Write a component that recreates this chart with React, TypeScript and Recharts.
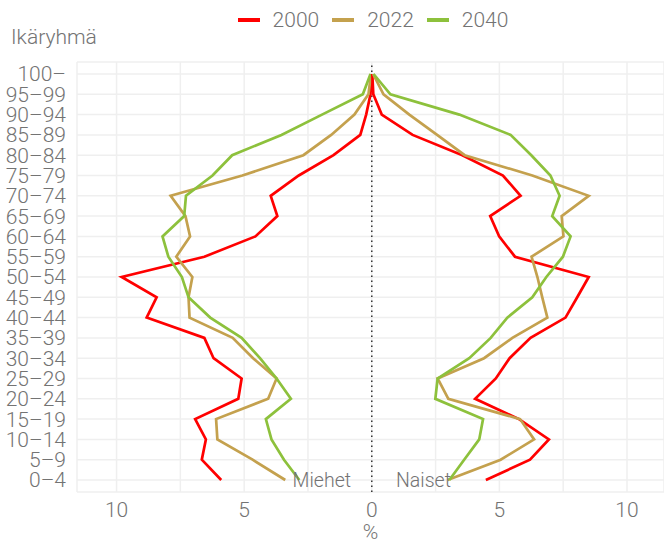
import React from "react";
import {
  LineChart, Line, XAxis, YAxis, CartesianGrid, ReferenceLine, Legend,
} from "recharts";

// age groups, bottom (0–4) to top (100–)
const AGES = [
  "0–4", "5–9", "10–14", "15–19", "20–24", "25–29", "30–34", "35–39", "40–44", "45–49",
  "50–54", "55–59", "60–64", "65–69", "70–74", "75–79", "80–84", "85–89", "90–94", "95–99", "100–",
];

// share of population, % (men drawn on the left)
const MEN_2000 = [5.9, 6.66, 6.5, 6.92, 5.23, 5.1, 6.2, 6.56, 8.82, 8.43, 9.8, 6.56, 4.56, 3.7, 3.96, 2.86, 1.5, 0.45, 0.22, 0.05, 0.02];
const MEN_2022 = [3.39, 4.67, 6.05, 6.1, 4.06, 3.73, 4.65, 5.45, 7.14, 7.18, 7.03, 7.66, 7.12, 7.3, 7.88, 5.07, 2.68, 1.59, 0.68, 0.13, 0.03];
const MEN_2040 = [2.84, 3.44, 3.93, 4.15, 3.17, 3.73, 4.38, 5.1, 6.33, 7.18, 7.44, 7.97, 8.2, 7.35, 7.28, 6.24, 5.47, 3.54, 1.95, 0.35, 0.05];

const WOMEN_2000 = [4.47, 6.2, 6.94, 5.77, 4.05, 4.86, 5.4, 6.22, 7.59, 8.05, 8.5, 5.61, 4.99, 4.64, 5.83, 5.14, 3.55, 1.6, 0.39, 0.06, 0.02];
const WOMEN_2022 = [2.97, 5.05, 6.36, 5.81, 3.0, 2.58, 4.4, 5.51, 6.88, 6.68, 6.49, 6.26, 7.51, 7.44, 8.5, 6.29, 3.64, 2.56, 1.47, 0.46, 0.05];
const WOMEN_2040 = [3.04, 3.62, 4.21, 4.36, 2.49, 2.58, 3.82, 4.66, 5.31, 6.29, 6.84, 7.49, 7.79, 7.07, 7.36, 7.0, 6.25, 5.44, 3.43, 0.73, 0.07];

const YEARS = ["2000", "2022", "2040"];
const COLORS: Record<string, string> = {
  "2000": "#ff0000",
  "2022": "#c4a14e",
  "2040": "#8dc13c",
};

const X_TICKS = [-10, -7.5, -5, -2.5, 0, 2.5, 5, 7.5, 10];

const rows = AGES.map((age, i) => ({
  age,
  m2000: -MEN_2000[i],
  m2022: -MEN_2022[i],
  m2040: -MEN_2040[i],
  w2000: WOMEN_2000[i],
  w2022: WOMEN_2022[i],
  w2040: WOMEN_2040[i],
}));

const FONT = "Roboto, 'Noto Sans', sans-serif";
const GREY = "#737373";

const renderLegend = () => (
  <div
    style={{
      display: "flex", justifyContent: "center", alignItems: "center",
      height: 39, paddingLeft: 82, fontFamily: FONT, fontWeight: 300,
      fontSize: 21, color: GREY,
    }}
  >
    {YEARS.map((y) => (
      <div key={y} style={{ display: "flex", alignItems: "center", margin: "0 6.5px" }}>
        <span style={{ display: "inline-block", width: 22, height: 4, background: COLORS[y], marginRight: 13 }} />
        <span>{y}</span>
      </div>
    ))}
  </div>
);

export default function App() {
  return (
    <div style={{ position: "absolute", left: 0, top: 0, width: 664, height: 543, background: "#fff" }}>
      <LineChart
        layout="vertical"
        width={664}
        height={543}
        data={rows}
        margin={{ top: 62, right: 0, bottom: 0, left: 0 }}
      >
        <CartesianGrid stroke="#efefef" strokeWidth={1.5} />
        <XAxis
          type="number"
          domain={[-11.55, 11.45]}
          allowDataOverflow
          ticks={X_TICKS}
          tickFormatter={(v: number) => (v % 5 === 0 ? String(Math.abs(v)) : "")}
          axisLine={false}
          tickLine={false}
          tickSize={0}
          tickMargin={10}
          height={51}
          tick={{ fill: GREY, fontSize: 21, fontFamily: FONT, fontWeight: 300 }}
          label={{ value: "%", position: "insideBottom", offset: 4, fill: GREY, fontSize: 21, fontFamily: FONT, fontWeight: 300 }}
        />
        <YAxis
          type="category"
          dataKey="age"
          reversed
          interval={0}
          width={77}
          padding={{ top: 12, bottom: 12 }}
          axisLine={false}
          tickLine={false}
          tickSize={0}
          tickMargin={11}
          tick={{ fill: GREY, fontSize: 21, fontFamily: FONT, fontWeight: 300 }}
        />
        <ReferenceLine x={0} stroke="#333" strokeWidth={1.5} strokeDasharray="1.5 3.5" />
        <Legend
          verticalAlign="middle"
          align="center"
          layout="horizontal"
          wrapperStyle={{ top: 0, left: 0, width: 664, height: 39 }}
          content={renderLegend}
        />
        {YEARS.map((y) => (
          <Line
            key={"m" + y}
            dataKey={"m" + y}
            name={y}
            stroke={COLORS[y]}
            strokeWidth={2.7}
            dot={false}
            legendType="none"
            isAnimationActive={false}
          />
        ))}
        {YEARS.map((y) => (
          <Line
            key={"w" + y}
            dataKey={"w" + y}
            name={y}
            stroke={COLORS[y]}
            strokeWidth={2.7}
            dot={false}
            isAnimationActive={false}
          />
        ))}
      </LineChart>
      <div style={{ position: "absolute", left: 11, top: 25, fontFamily: FONT, fontWeight: 300, fontSize: 21, color: GREY }}>
        Ikäryhmä
      </div>
      <div style={{ position: "absolute", right: 313, top: 469, fontFamily: FONT, fontWeight: 300, fontSize: 19.5, color: GREY, lineHeight: "normal" }}>
        Miehet
      </div>
      <div style={{ position: "absolute", left: 396, top: 469, fontFamily: FONT, fontWeight: 300, fontSize: 19.5, color: GREY, lineHeight: "normal" }}>
        Naiset
      </div>
    </div>
  );
}
